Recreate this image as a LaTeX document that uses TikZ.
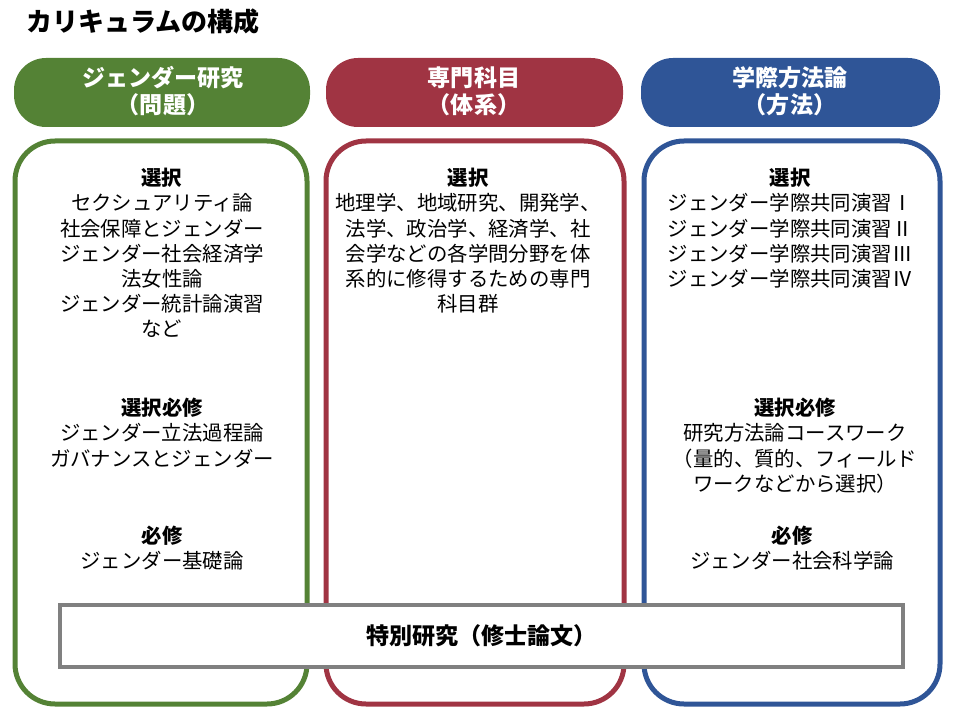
\documentclass[tikz,border=0pt]{standalone}
\usepackage{fontspec}
\setmainfont{Noto Sans CJK JP}
\definecolor{cgreen}{HTML}{548235}
\definecolor{cred}{HTML}{A03443}
\definecolor{cblue}{HTML}{2F5597}
\definecolor{cgray}{HTML}{808080}
\begin{document}
\begin{tikzpicture}[x=0.75pt,y=-0.75pt,
  pill/.style={rounded corners=24pt},
  colbox/.style={line width=3.75pt,rounded corners=30pt},
  body/.style={align=center,inner sep=0pt,anchor=north,font=\fontsize{15.3}{18.9}\selectfont},
  head/.style={align=center,inner sep=0pt,text=white,font=\bfseries\fontsize{17.3}{20}\selectfont},
]
\useasboundingbox (0,0) rectangle (960,720);
\node[anchor=west,inner sep=0pt,font=\bfseries\fontsize{19.5}{22}\selectfont] (title) at (26,22) {カリキュラムの構成};

% header pills
\fill[cgreen,pill] (14,58) rectangle (310,127);
\fill[cred,pill] (326,58) rectangle (623,127);
\fill[cblue,pill] (641,58) rectangle (940,127);
\node[head] (h1) at (163,91) {ジェンダー研究\\（問題）};
\node[head] (h2) at (474,91) {専門科目\\（体系）};
\node[head] (h3) at (790,91) {学際方法論\\（方法）};

% column boxes
\draw[colbox,cgreen] (15,141) rectangle (307,704);
\draw[colbox,cred] (326,141) rectangle (624,704);
\draw[colbox,cblue] (644,141) rectangle (940,704);

% green column
\node[body] (g1) at (162,168) {\textbf{選択}\\セクシュアリティ論\\社会保障とジェンダー\\ジェンダー社会経済学\\法女性論\\ジェンダー統計論演習\\など};
\node[body] (g2) at (162,398) {\textbf{選択必修}\\ジェンダー立法過程論\\ガバナンスとジェンダー};
\node[body] (g3) at (162,526) {\textbf{必修}\\ジェンダー基礎論};

% red column
\node[body] (r1) at (468,168) {\textbf{選択}\\地理学、地域研究、開発学、\\法学、政治学、経済学、社\\会学などの各学問分野を体\\系的に修得するための専門\\科目群};

% blue column
\node[body] (b1) at (790,168) {\textbf{選択}\\ジェンダー学際共同演習Ⅰ\\ジェンダー学際共同演習Ⅱ\\ジェンダー学際共同演習Ⅲ\\ジェンダー学際共同演習Ⅳ};
\node[body] (b2) at (795,398) {\textbf{選択必修}\\研究方法論コースワーク\\（量的、質的、フィールド\\ワークなどから選択）};
\node[body] (b3) at (792,526) {\textbf{必修}\\ジェンダー社会科学論};

% thesis box
\node[draw=cgray,fill=white,line width=3pt,minimum width=843*0.75pt,minimum height=62*0.75pt,inner sep=0pt,font=\bfseries\fontsize{17.3}{20}\selectfont] (thesis) at (481.5,636) {特別研究（修士論文）};
\end{tikzpicture}
\end{document}
